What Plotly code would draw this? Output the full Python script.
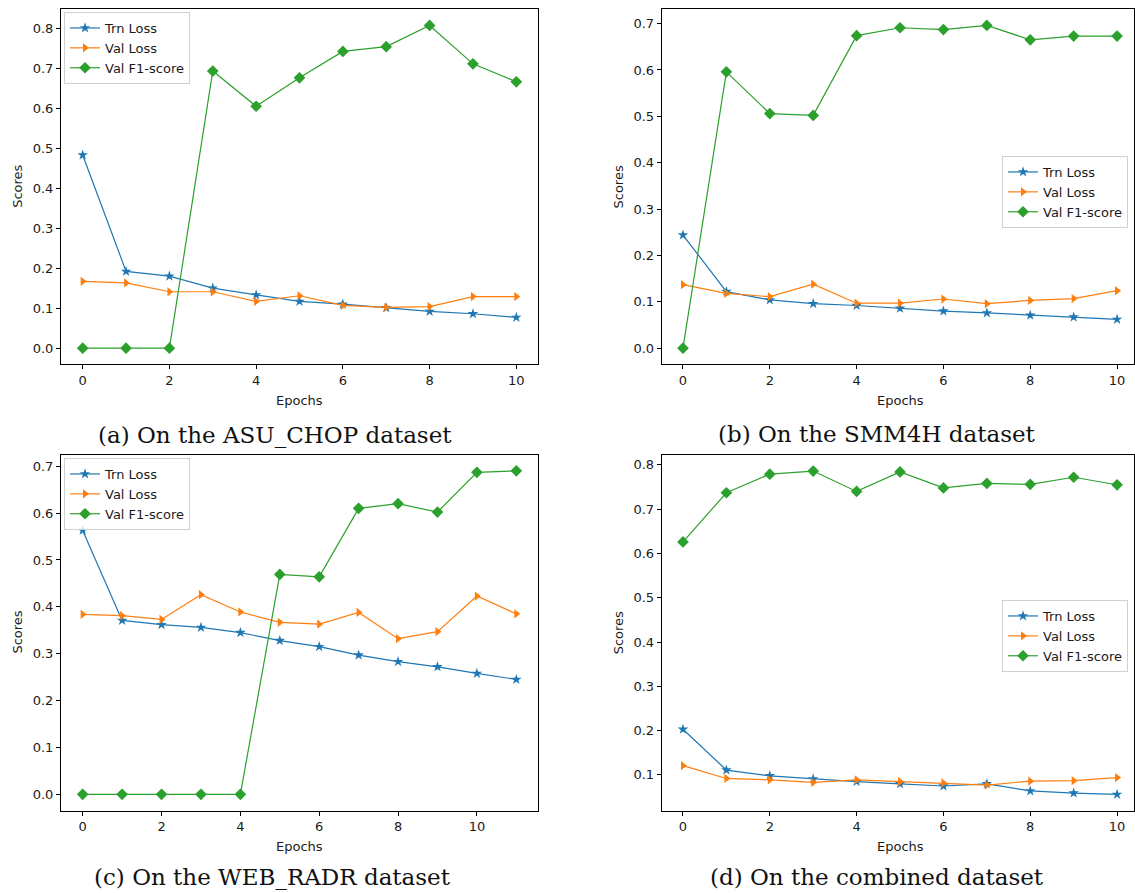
import plotly.graph_objects as go

# ---------------- data ----------------
epochs_11 = list(range(11))
epochs_12 = list(range(12))

asu_trn = [0.483, 0.192, 0.180, 0.150, 0.133, 0.117, 0.110, 0.101, 0.092, 0.086, 0.077]
asu_val = [0.167, 0.163, 0.141, 0.141, 0.117, 0.131, 0.107, 0.102, 0.104, 0.129, 0.129]
asu_f1 = [0.0, 0.0, 0.0, 0.693, 0.605, 0.676, 0.742, 0.754, 0.807, 0.711, 0.666]

smm_trn = [0.244, 0.122, 0.104, 0.096, 0.092, 0.086, 0.080, 0.076, 0.071, 0.067, 0.062]
smm_val = [0.137, 0.118, 0.111, 0.138, 0.097, 0.097, 0.106, 0.096, 0.103, 0.107, 0.124]
smm_f1 = [0.0, 0.596, 0.506, 0.502, 0.674, 0.691, 0.687, 0.696, 0.665, 0.673, 0.673]

web_trn = [0.563, 0.371, 0.362, 0.356, 0.345, 0.328, 0.315, 0.297, 0.283, 0.272, 0.258, 0.245]
web_val = [0.384, 0.381, 0.373, 0.426, 0.389, 0.367, 0.363, 0.388, 0.332, 0.347, 0.423, 0.385]
web_f1 = [0.0, 0.0, 0.0, 0.0, 0.0, 0.469, 0.464, 0.610, 0.620, 0.602, 0.687, 0.690]

com_trn = [0.203, 0.111, 0.098, 0.091, 0.085, 0.080, 0.075, 0.080, 0.064, 0.059, 0.056]
com_val = [0.121, 0.092, 0.089, 0.083, 0.089, 0.085, 0.082, 0.077, 0.086, 0.087, 0.094]
com_f1 = [0.626, 0.737, 0.779, 0.786, 0.740, 0.784, 0.748, 0.758, 0.756, 0.772, 0.755]

series_names = ["Trn Loss", "Val Loss", "Val F1-score"]
captions = ["(a) On the ASU_CHOP dataset", "(b) On the SMM4H dataset",
            "(c) On the WEB_RADR dataset", "(d) On the combined dataset"]
x_tick_vals = [0, 2, 4, 6, 8, 10]

# ---------------- layout helpers ----------------
W, H = 1135, 893
BLUE, ORANGE, GREEN = "#1f77b4", "#ff7f0e", "#2ca02c"
TXT = "#1a1a1a"
FS = 13


def px_x(p):
    return p / W


def px_y(p):
    return 1 - p / H


panels = [
    dict(x=epochs_11, data=[asu_trn, asu_val, asu_f1], xd=(61, 538), yd=(9.3, 364.3),
         xr=[-0.5, 10.5], yr=[-0.0404, 0.8474], yt=[0.0, 0.1, 0.2, 0.3, 0.4, 0.5, 0.6, 0.7, 0.8],
         leg=(64, 12), cap=(275, 435)),
    dict(x=epochs_11, data=[smm_trn, smm_val, smm_f1], xd=(661.7, 1134), yd=(9.3, 364.3),
         xr=[-0.49, 10.39], yr=[-0.0348, 0.7308], yt=[0.0, 0.1, 0.2, 0.3, 0.4, 0.5, 0.6, 0.7],
         leg=(1002, 156), cap=(877, 434)),
    dict(x=epochs_12, data=[web_trn, web_val, web_f1], xd=(61, 538), yd=(454.7, 810.5),
         xr=[-0.55, 11.55], yr=[-0.0345, 0.7245], yt=[0.0, 0.1, 0.2, 0.3, 0.4, 0.5, 0.6, 0.7],
         leg=(64, 458), cap=(272, 877)),
    dict(x=epochs_11, data=[com_trn, com_val, com_f1], xd=(661.7, 1134), yd=(454.7, 810.5),
         xr=[-0.49, 10.39], yr=[0.0197, 0.8229], yt=[0.1, 0.2, 0.3, 0.4, 0.5, 0.6, 0.7, 0.8],
         leg=(1002, 600), cap=(877, 877)),
]

styles = [
    dict(color=BLUE, symbol="star", size=8),
    dict(color=ORANGE, symbol="triangle-right", size=8),
    dict(color=GREEN, symbol="diamond", size=9),
]

fig = go.Figure()
layout = dict(
    width=W, height=H, margin=dict(l=0, r=0, t=0, b=0),
    paper_bgcolor="white", plot_bgcolor="white",
    font=dict(family="DejaVu Sans", size=FS, color=TXT),
    showlegend=True,
)
annotations = []

for i, p in enumerate(panels):
    k = "" if i == 0 else str(i + 1)
    legname = "legend" + k
    for j in range(3):
        st = styles[j]
        fig.add_trace(go.Scatter(
            x=p["x"], y=p["data"][j], mode="lines+markers", name=series_names[j],
            line=dict(color=st["color"], width=1.2),
            marker=dict(color=st["color"], symbol=st["symbol"], size=st["size"]),
            xaxis="x" + k, yaxis="y" + k, legend=legname,
        ))
    axcommon = dict(showline=True, linecolor="black", linewidth=1, mirror=True,
                    ticks="outside", ticklen=4, tickwidth=1, tickcolor="black",
                    showgrid=False, zeroline=False,
                    tickfont=dict(family="DejaVu Sans", size=FS, color=TXT))
    layout["xaxis" + k] = dict(domain=[px_x(p["xd"][0]), px_x(p["xd"][1])],
                               range=p["xr"], tickvals=x_tick_vals,
                               anchor="y" + k, **axcommon)
    layout["yaxis" + k] = dict(domain=[px_y(p["yd"][1]), px_y(p["yd"][0])],
                               range=p["yr"], tickvals=p["yt"], tickformat=".1f",
                               anchor="x" + k, **axcommon)
    layout[legname] = dict(x=px_x(p["leg"][0]), y=px_y(p["leg"][1]),
                           xanchor="left", yanchor="top",
                           bgcolor="rgba(255,255,255,0.8)", bordercolor="#d0d0d0",
                           borderwidth=1, font=dict(family="DejaVu Sans", size=FS, color=TXT),
                           tracegroupgap=0, itemwidth=30)
    # axis titles
    xc = (p["xd"][0] + (p["xd"][1] if i % 2 == 0 else 1139)) / 2
    annotations.append(dict(text="Epochs", x=px_x(xc), y=px_y(p["yd"][1] + 36),
                            xref="paper", yref="paper", showarrow=False,
                            xanchor="center", yanchor="middle",
                            font=dict(family="DejaVu Sans", size=FS, color=TXT)))
    annotations.append(dict(text="Scores", x=px_x(p["xd"][0] - 43),
                            y=px_y((p["yd"][0] + p["yd"][1]) / 2),
                            xref="paper", yref="paper", showarrow=False, textangle=-90,
                            xanchor="center", yanchor="middle",
                            font=dict(family="DejaVu Sans", size=FS, color=TXT)))
    annotations.append(dict(text=captions[i], x=px_x(p["cap"][0]), y=px_y(p["cap"][1]),
                            xref="paper", yref="paper", showarrow=False,
                            xanchor="center", yanchor="middle",
                            font=dict(family="DejaVu Serif", size=23, color="#111111")))

layout["annotations"] = annotations
fig.update_layout(**layout)
fig.write_html("out.html")
